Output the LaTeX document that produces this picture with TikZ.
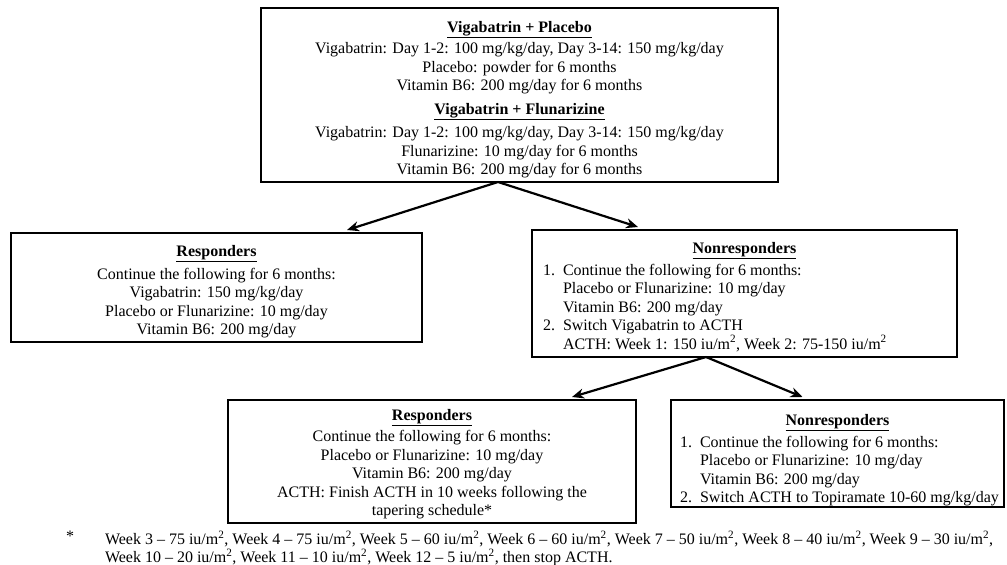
\documentclass[tikz,border=0pt]{standalone}
\usepackage{fontspec}
\setmainfont{Liberation Serif}
\usetikzlibrary{arrows.meta,calc}
\newcommand{\hd}[1]{\underline{\textbf{#1}}}
\newcommand{\ium}{iu/m\textsuperscript{2}}
\newcommand{\itm}[1]{\makebox[20pt][l]{#1}}
\newcommand{\tstrut}{\rule{0pt}{20pt}}
\newcommand{\sstrut}{\rule{0pt}{16pt}}
\begin{document}
\begin{tikzpicture}[x=1pt,y=-1pt,
  every node/.style={inner sep=0pt,outer sep=0pt},
  txt/.style={font=\fontsize{16}{18.5}\selectfont},
  boxc/.style={draw,line width=2.2pt,anchor=north west,align=center,txt},
  boxe/.style={draw,line width=2.2pt,anchor=north west},
  lst/.style={txt,align=left,anchor=north west},
  ttl/.style={txt,anchor=base},
  arr/.style={line width=2.2pt,-{Stealth[length=12pt,width=10pt]}}]
\useasboundingbox (0,0) rectangle (1007,565);
\fill[white] (0,0) rectangle (1007,565);
% top box
\node[boxc,minimum width=517pt,minimum height=174pt] (top) at (261,8)
 {\tstrut\hd{Vigabatrin + Placebo}\\[3pt]
  Vigabatrin: Day 1-2: 100 mg/kg/day, Day 3-14: 150 mg/kg/day\\
  Placebo: powder for 6 months\\
  Vitamin B6: 200 mg/day for 6 months\\[5pt]
  \hd{Vigabatrin + Flunarizine}\\[5pt]
  Vigabatrin: Day 1-2: 100 mg/kg/day, Day 3-14: 150 mg/kg/day\\
  Flunarizine: 10 mg/day for 6 months\\
  Vitamin B6: 200 mg/day for 6 months};
% level 2
\node[boxc,minimum width=411pt,minimum height=109pt] (resp1) at (11,233)
 {\tstrut\hd{Responders}\\[4pt]
  Continue the following for 6 months:\\
  Vigabatrin: 150 mg/kg/day\\
  Placebo or Flunarizine: 10 mg/day\\
  Vitamin B6: 200 mg/day};
\node[boxe,minimum width=425pt,minimum height=127pt] (non1) at (532,230) {};
\node[ttl] (non1h) at ($(non1.north)+(0,23)$) {\hd{Nonresponders}};
\node[lst] (non1t) at ($(non1.north west)+(11,34)$)
 {\itm{1.}Continue the following for 6 months:\\
  \itm{}Placebo or Flunarizine: 10 mg/day\\
  \itm{}Vitamin B6: 200 mg/day\\
  \itm{2.}Switch Vigabatrin to ACTH\\
  \itm{}ACTH: Week 1: 150 \ium, Week 2: 75-150 \ium};
% level 3
\node[boxc,minimum width=408pt,minimum height=123pt] (resp2) at (228,400)
 {\sstrut\hd{Responders}\\[3pt]
  Continue the following for 6 months:\\
  Placebo or Flunarizine: 10 mg/day\\
  Vitamin B6: 200 mg/day\\
  ACTH: Finish ACTH in 10 weeks following the\\
  tapering schedule*};
\node[boxe,minimum width=333pt,minimum height=107pt] (non2) at (671,400) {};
\node[ttl] (non2h) at ($(non2.north)+(0,25)$) {\hd{Nonresponders}};
\node[lst] (non2t) at ($(non2.north west)+(9,36)$)
 {\itm{1.}Continue the following for 6 months:\\
  \itm{}Placebo or Flunarizine: 10 mg/day\\
  \itm{}Vitamin B6: 200 mg/day\\
  \itm{2.}Switch ACTH to Topiramate 10-60 mg/kg/day};
% arrows
\draw[arr] ([xshift=-21.5pt]top.south) -- ([xshift=130.5pt,yshift=3pt]resp1.north);
\draw[arr] ([xshift=-21.5pt]top.south) -- ([xshift=-106.5pt,yshift=3pt]non1.north);
\draw[arr] ([xshift=-38.5pt]non1.south) -- ([xshift=140pt,yshift=3pt]resp2.north);
\draw[arr] ([xshift=-38.5pt]non1.south) -- ([xshift=-35pt,yshift=3pt]non2.north);
% footnote
\node[txt] (star) at (70,536) {*};
\node[lst,font=\fontsize{16}{18}\selectfont] (foot) at (105,531)
 {Week 3 -- 75 \ium, Week 4 -- 75 \ium, Week 5 -- 60 \ium, Week 6 -- 60 \ium, Week 7 -- 50 \ium, Week 8 -- 40 \ium, Week 9 -- 30 \ium,\\
  Week 10 -- 20 \ium, Week 11 -- 10 \ium, Week 12 -- 5 \ium, then stop ACTH.};
\end{tikzpicture}
\end{document}
